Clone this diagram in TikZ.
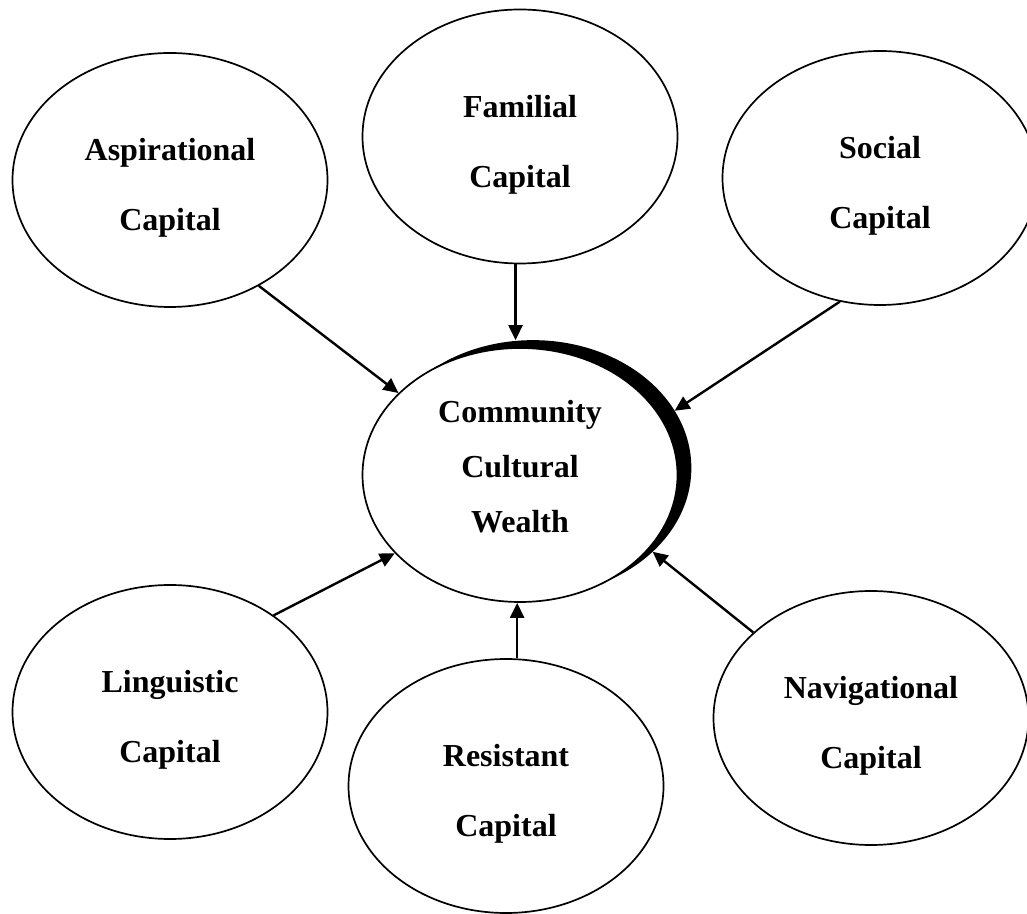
\documentclass[tikz,border=0pt]{standalone}
\usepackage{fontspec}
\setmainfont{Liberation Serif}
\usetikzlibrary{shapes.geometric,arrows.meta}
\begin{document}
\begin{tikzpicture}[x=1pt,y=1pt,
  capital/.style={ellipse, draw, line width=1.7pt, fill=white,
    minimum width=315pt, minimum height=254pt, inner sep=0pt},
  twoline/.style={align=center, inner sep=0pt,
    font=\fontsize{32}{70}\selectfont\bfseries},
  threeline/.style={align=center, inner sep=0pt,
    font=\fontsize{32}{55}\selectfont\bfseries},
  feeds/.style={line width=2.4pt, -{Triangle[length=15pt,width=14pt]}}]
\fill[white] (0,0) rectangle (1027,913);
\useasboundingbox (0,0) rectangle (1027,913);

% outer forms of capital
\node[capital] (asp) at (170,733) {};
\node[capital] (fam) at (520,776.5) {};
\node[capital] (soc) at (880,735) {};
\node[capital] (lin) at (170,201) {};
\node[capital] (res) at (506,127) {};
\node[capital] (nav) at (871,195) {};

% central ellipse with its black offset shadow
\node[capital, fill=black] (shade) at (533,445) {};
\node[capital] (ccw) at (520,438) {};

% labels
\node[twoline] (asp-t) at ([yshift=-8pt]asp.center) {Aspirational\\Capital};
\node[twoline] (fam-t) at ([yshift=-8pt]fam.center) {Familial\\Capital};
\node[twoline] (soc-t) at ([yshift=-8pt]soc.center) {Social\\Capital};
\node[twoline] (lin-t) at ([yshift=-8pt]lin.center) {Linguistic\\Capital};
\node[twoline] (res-t) at ([yshift=-8pt]res.center) {Resistant\\Capital};
\node[twoline] (nav-t) at ([yshift=-8pt]nav.center) {Navigational\\Capital};
\node[threeline] (ccw-t) at ([yshift=8pt]ccw.center) {Community\\Cultural\\Wealth};

% arrows into the centre
\draw[feeds] (asp.-50) -- (ccw.146);
\draw[feeds] (fam.-92) -- (fam.-92 |- shade.north);
\draw[feeds] (soc.-108) -- (shade.22);
\draw[feeds] (lin.43) -- (ccw.-148);
\draw[feeds] (res.85) -- (res.85 |- ccw.south);
\draw[feeds] (nav.144) -- (shade.-35);
\end{tikzpicture}
\end{document}
